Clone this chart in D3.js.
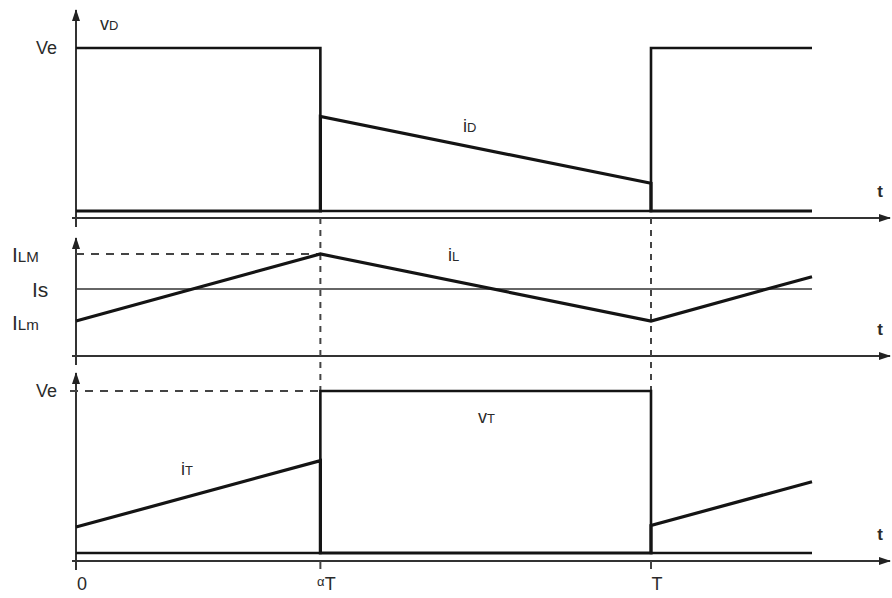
<!DOCTYPE html>
<html>
<head>
<meta charset="utf-8">
<script src="https://cdn.jsdelivr.net/npm/d3@7"></script>
<style>
  body { margin: 0; background: #fff; }
  text { font-family: "Liberation Sans", Arial, sans-serif; fill: #2a2a2a; }
</style>
</head>
<body>
<div id="canvas"></div>
<script>
"use strict"

// time is in units of the period T
const alpha = 0.425;
const tEnd = 1.28;

// top panel: diode voltage and diode current
const vD = [[0, 1], [alpha, 1], [alpha, 0], [1, 0], [1, 1], [tEnd, 1]];
const iD = [[0, 0], [alpha, 0], [alpha, 0.58], [1, 0.17], [1, 0], [tEnd, 0]];

// middle panel: inductor current and its levels
const iL = [[0, 0.35], [alpha, 1], [1, 0.35], [tEnd, 0.78]];
const levelILM = 1;
const levelIs = 0.66;
const levelILm = 0.35;

// bottom panel: transistor voltage and current
const vT = [[0, 0], [alpha, 0], [alpha, 1], [1, 1], [1, 0], [tEnd, 0]];
const iT = [[0, 0.16], [alpha, 0.57], [alpha, 0], [1, 0], [1, 0.17], [tEnd, 0.44]];

const tickLabels = [
    { t: 0, main: "0", pre: "" },
    { t: alpha, main: "T", pre: "α" },
    { t: 1, main: "T", pre: "" }
];

let drawing = d3.select("#canvas")
    .append("svg")
    .attr("width", 892)
    .attr("height", 598);

// arrow head used by every axis
drawing.append("defs").append("marker")
    .attr("id", "arrow")
    .attr("viewBox", "0 0 12 8")
    .attr("refX", 11)
    .attr("refY", 4)
    .attr("markerWidth", 12)
    .attr("markerHeight", 8)
    .attr("markerUnits", "userSpaceOnUse")
    .attr("orient", "auto")
    .append("path")
    .attr("d", "M0,0 L12,4 L0,8 z")
    .attr("fill", "#222");

let x = d3.scaleLinear().domain([0, 1]).range([76, 651]);
let y1 = d3.scaleLinear().domain([0, 1]).range([211, 48]);
let y2 = d3.scaleLinear().domain([levelILm, levelILM]).range([321, 254]);
let y3 = d3.scaleLinear().domain([0, 1]).range([553, 391]);

const axisY = [218, 356, 561];
const axisTop = [10, 238, 373];
const x0 = x(0);

// time axes and vertical axes
axisY.forEach((ay, i) => {
    drawing.append("line")
        .attr("x1", x0 - 4).attr("y1", ay)
        .attr("x2", 890).attr("y2", ay)
        .attr("stroke", "#333").attr("stroke-width", 2)
        .attr("marker-end", "url(#arrow)");
    drawing.append("line")
        .attr("x1", x0).attr("y1", ay + 9)
        .attr("x2", x0).attr("y2", axisTop[i])
        .attr("stroke", "#333").attr("stroke-width", 2)
        .attr("marker-end", "url(#arrow)");
    drawing.append("text")
        .attr("x", 880).attr("y", ay - 21)
        .attr("text-anchor", "middle")
        .attr("font-size", 17).attr("font-weight", "bold")
        .text("t");
});

// dashed guides at alpha*T and T
[alpha, 1].forEach(t => {
    drawing.append("line")
        .attr("x1", x(t)).attr("y1", axisY[0])
        .attr("x2", x(t)).attr("y2", y3(1))
        .attr("stroke", "#444").attr("stroke-width", 2)
        .attr("stroke-dasharray", "6,6");
    drawing.append("line")
        .attr("x1", x(t)).attr("y1", axisY[2])
        .attr("x2", x(t)).attr("y2", axisY[2] + 8)
        .attr("stroke", "#444").attr("stroke-width", 2);
});

// dashed horizontal levels
drawing.append("line")
    .attr("x1", x0).attr("y1", y2(levelILM))
    .attr("x2", x(alpha)).attr("y2", y2(levelILM))
    .attr("stroke", "#444").attr("stroke-width", 2)
    .attr("stroke-dasharray", "8,7");
drawing.append("line")
    .attr("x1", x0 - 6).attr("y1", y3(1))
    .attr("x2", x(alpha)).attr("y2", y3(1))
    .attr("stroke", "#444").attr("stroke-width", 2)
    .attr("stroke-dasharray", "8,7");

// Is level
drawing.append("line")
    .attr("x1", x0).attr("y1", y2(levelIs))
    .attr("x2", x(tEnd)).attr("y2", y2(levelIs))
    .attr("stroke", "#333").attr("stroke-width", 1.5);

// waveforms
function wave(data, yScale, width) {
    drawing.append("path")
        .datum(data)
        .attr("d", d3.line().x(d => x(d[0])).y(d => yScale(d[1])))
        .attr("fill", "none")
        .attr("stroke", "#141414")
        .attr("stroke-width", width)
        .attr("stroke-linejoin", "miter");
}
wave(vD, y1, 2.6);
wave(iD, y1, 3.2);
wave(iL, y2, 3.2);
wave(vT, y3, 2.6);
wave(iT, y3, 3.2);

// labels with small subscripts
function label(px, py, main, sub, size) {
    let t = drawing.append("text")
        .attr("x", px).attr("y", py)
        .attr("font-size", size);
    t.append("tspan").text(main);
    t.append("tspan").attr("font-size", size * 0.72).text(sub);
    return t;
}

label(100, 30, "v", "D", 18);
label(463, 132, "i", "D", 18);
label(448, 261, "i", "L", 18);
label(181, 475, "i", "T", 18);
label(478, 423, "v", "T", 18);

// y-axis level names
[[y1(1), "Ve", ""], [y3(1), "Ve", ""]].forEach(d => {
    drawing.append("text")
        .attr("x", 57).attr("y", d[0] + 6)
        .attr("text-anchor", "end")
        .attr("font-size", 18)
        .text(d[1]);
});
label(12, y2(levelILM) + 8, "I", "LM", 21);
label(32, y2(levelIs) + 8, "Is", "", 21);
label(12, y2(levelILm) + 9, "I", "Lm", 21);

// time tick labels
tickLabels.forEach(d => {
    let t = drawing.append("text")
        .attr("x", x(d.t) + 6).attr("y", 590)
        .attr("text-anchor", "middle")
        .attr("font-size", 18);
    if (d.pre) {
        t.append("tspan").attr("font-size", 13).attr("dy", -4).text(d.pre);
        t.append("tspan").attr("dy", 4).text(d.main);
    } else {
        t.text(d.main);
    }
});
</script>
</body>
</html>
